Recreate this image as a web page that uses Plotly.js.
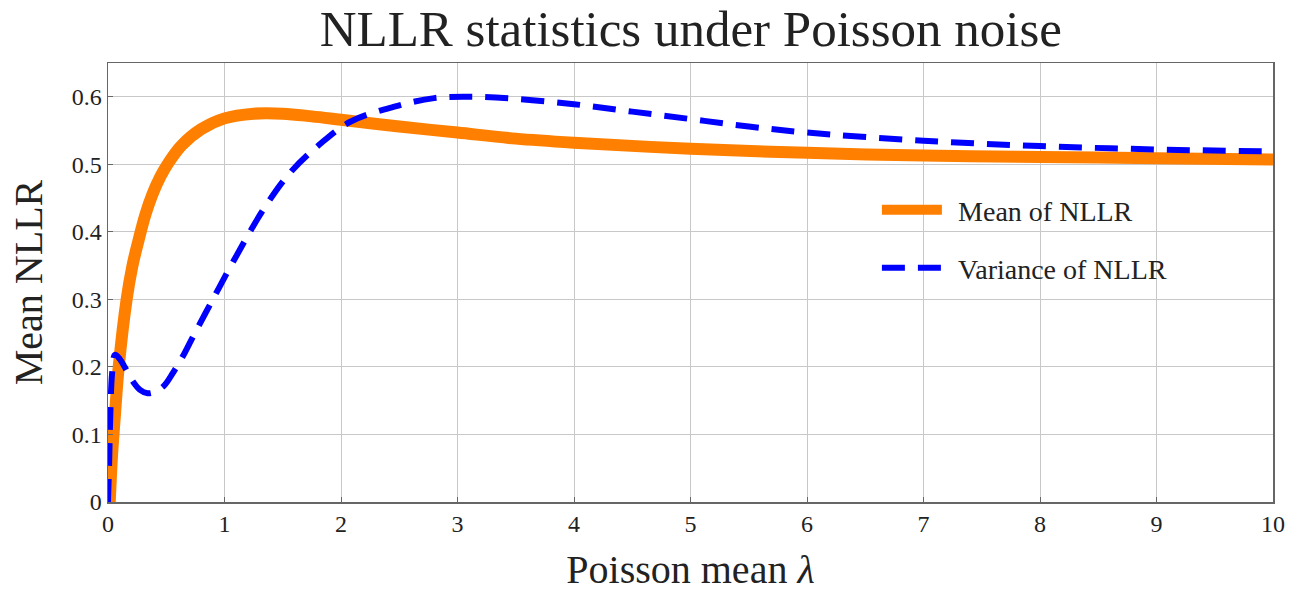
<!DOCTYPE html>
<html>
<head>
<meta charset="utf-8">
<script src="https://cdn.plot.ly/plotly-3.0.1.min.js"></script>
<style>html,body{margin:0;padding:0;background:#fff;}#chart{width:1301px;height:592px;}</style>
</head>
<body>
<div id="chart"></div>
<script>
// Mean of NLLR
const meanX = [0.015, 0.035, 0.06, 0.092, 0.16, 0.21, 0.263, 0.32, 0.38, 0.45, 0.518, 0.632, 0.8, 1.0, 1.25, 1.5, 1.75, 2.0, 2.5, 3.0, 3.5, 4.0, 5.0, 6.0, 7.0, 8.0, 9.0, 10.0];
const meanY = [0.0, 0.07, 0.13, 0.2, 0.3, 0.35, 0.388, 0.425, 0.455, 0.482, 0.502, 0.528, 0.552, 0.568, 0.575, 0.575, 0.571, 0.566, 0.556, 0.547, 0.538, 0.532, 0.523, 0.517, 0.513, 0.511, 0.509, 0.507];
// Variance of NLLR
const varX = [0.0, 0.01, 0.02, 0.035, 0.06, 0.1, 0.146, 0.2, 0.275, 0.34, 0.4, 0.48, 0.56, 0.64, 0.73, 0.9, 1.075, 1.33, 1.56, 1.82, 2.08, 2.45, 2.8, 3.1, 3.5, 4.0, 4.5, 5.0, 5.5, 6.0, 7.0, 8.0, 9.0, 10.0];
const varY = [0.0, 0.06, 0.13, 0.19, 0.218, 0.212, 0.199, 0.182, 0.166, 0.161, 0.163, 0.172, 0.192, 0.215, 0.245, 0.30, 0.356, 0.432, 0.487, 0.53, 0.563, 0.585, 0.598, 0.600, 0.597, 0.589, 0.578, 0.567, 0.556, 0.547, 0.535, 0.527, 0.522, 0.519];
const xTicks = [0,1,2,3,4,5,6,7,8,9,10];
const yTicks = [0,0.1,0.2,0.3,0.4,0.5,0.6];
const yTickText = ["0","0.1","0.2","0.3","0.4","0.5","0.6"];

const FONT = "Liberation Serif, DejaVu Serif, serif";
const TXT = "#222";

const traces = [
  {x: meanX, y: meanY, type: "scatter", mode: "lines", name: "\u2009\u2009Mean of NLLR",
   line: {color: "#ff7f00", width: 12, shape: "spline", smoothing: 1}, legend: "legend"},
  {x: varX, y: varY, type: "scatter", mode: "lines", name: "\u2009\u2009Variance of NLLR",
   line: {color: "#0000ff", width: 6, dash: "23px,13px", shape: "spline", smoothing: 1}, legend: "legend2"}
];

const legendBase = {
  bgcolor: "rgba(0,0,0,0)", borderwidth: 0, itemwidth: 60,
  font: {family: FONT, size: 28, color: TXT}, xanchor: "left", yanchor: "middle"
};

const layout = {
  width: 1301, height: 592,
  margin: {l: 108, r: 28, t: 63, b: 90},
  paper_bgcolor: "#fff", plot_bgcolor: "#fff",
  title: {text: "NLLR statistics under Poisson noise", font: {family: FONT, size: 51, color: TXT},
          x: 0.531, xanchor: "center", y: 0.953, yanchor: "middle"},
  xaxis: {range: [0, 10], tickvals: xTicks, ticktext: xTicks.map(String),
          showgrid: true, gridcolor: "#c8c8c8", gridwidth: 1,
          showline: true, linecolor: "#666", linewidth: 1.5, mirror: true,
          ticks: "inside", ticklen: 5, tickcolor: "#666",
          zeroline: false, tickfont: {family: FONT, size: 24, color: TXT},
          title: {text: "Poisson mean <i>λ</i>", font: {family: FONT, size: 40, color: TXT}, standoff: 24}},
  yaxis: {range: [0, 0.65], tickvals: yTicks, ticktext: yTickText,
          showgrid: true, gridcolor: "#c8c8c8", gridwidth: 1,
          showline: true, linecolor: "#666", linewidth: 1.5, mirror: true,
          ticks: "inside", ticklen: 5, tickcolor: "#666",
          zeroline: false, tickfont: {family: FONT, size: 24, color: TXT},
          title: {text: "Mean NLLR", font: {family: FONT, size: 40, color: TXT}, standoff: 16}},
  legend: Object.assign({}, legendBase, {x: 0.66, y: 0.665}),
  legend2: Object.assign({}, legendBase, {x: 0.66, y: 0.533}),
  showlegend: true
};

Plotly.newPlot("chart", traces, layout, {displayModeBar: false, staticPlot: true});
</script>
</body>
</html>
